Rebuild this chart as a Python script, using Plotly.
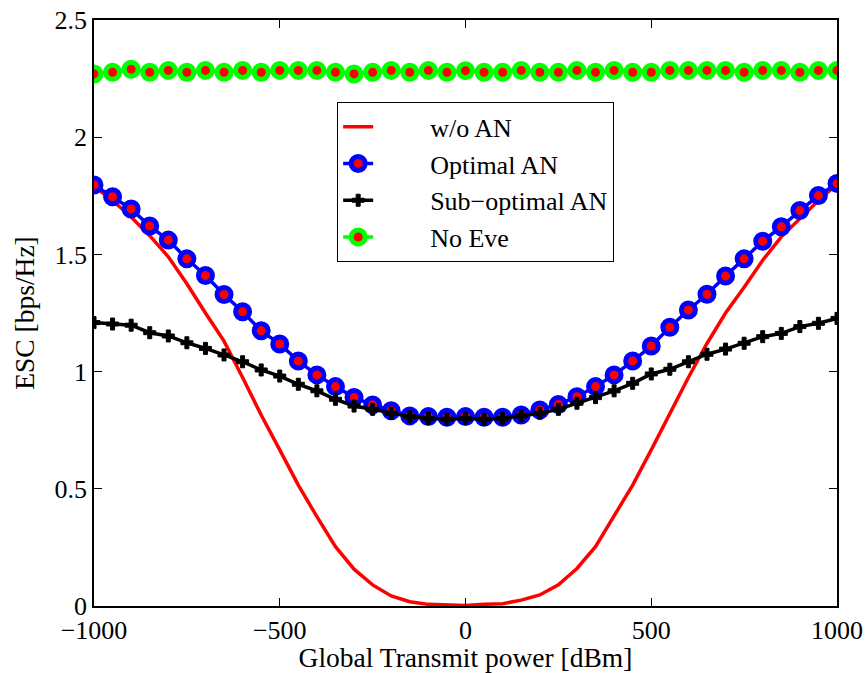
import plotly.graph_objects as go

power_dbm = list(range(-1000, 1001, 50))

wo_an = [1.79, 1.73, 1.66, 1.58, 1.49, 1.375, 1.25, 1.13, 0.975, 0.815,
         0.666, 0.516, 0.381, 0.253, 0.157, 0.090, 0.043, 0.018, 0.007, 0.005,
         0.002,
         0.007, 0.010, 0.025, 0.047, 0.090, 0.160, 0.253, 0.381, 0.516, 0.666,
         0.820, 0.975, 1.12, 1.25, 1.36, 1.475, 1.575, 1.655, 1.73, 1.80]

optimal_an = [1.796, 1.746, 1.694, 1.621, 1.561, 1.481, 1.410, 1.329, 1.255, 1.174,
              1.118, 1.045, 0.986, 0.936, 0.890, 0.858, 0.833, 0.811, 0.808, 0.805,
              0.808,
              0.805, 0.805, 0.815, 0.836, 0.860, 0.893, 0.936, 0.986, 1.045, 1.109,
              1.189, 1.263, 1.330, 1.408, 1.481, 1.556, 1.618, 1.687, 1.751, 1.803]

sub_optimal_an = [1.209, 1.203, 1.198, 1.166, 1.152, 1.123, 1.099, 1.071, 1.042, 1.007,
                  0.981, 0.946, 0.918, 0.882, 0.853, 0.839, 0.822, 0.808, 0.801, 0.797,
                  0.801,
                  0.797, 0.801, 0.811, 0.822, 0.839, 0.865, 0.889, 0.918, 0.950, 0.990,
                  1.010, 1.042, 1.074, 1.096, 1.121, 1.149, 1.163, 1.192, 1.206, 1.227]

no_eve = [2.270, 2.277, 2.290, 2.277, 2.285, 2.277, 2.285, 2.277, 2.285, 2.277,
          2.285, 2.285, 2.285, 2.277, 2.270, 2.277, 2.285, 2.277, 2.285, 2.277,
          2.284,
          2.277, 2.277, 2.285, 2.277, 2.277, 2.285, 2.277, 2.285, 2.277, 2.277,
          2.285, 2.285, 2.285, 2.285, 2.277, 2.285, 2.285, 2.277, 2.285, 2.285]

series_names = ["w/o AN", "Optimal AN", "Sub\u2212optimal AN", "No Eve"]

x_ticks = [-1000, -500, 0, 500, 1000]
y_ticks = [0, 0.5, 1, 1.5, 2, 2.5]
y_tick_labels = ["0", "0.5", "1", "1.5", "2", "2.5"]

FONT = "Liberation Serif"
PAD = "\u00a0" * 8  # pushes legend text right, like the long MATLAB legend samples

fig = go.Figure()
fig.add_trace(go.Scatter(x=power_dbm, y=wo_an, mode="lines", name=PAD + series_names[0],
                         legendgroup="a",
                         line=dict(color="#ff0000", width=3.5)))
fig.add_trace(go.Scatter(x=power_dbm, y=optimal_an, mode="lines+markers", name=PAD + series_names[1],
                         legendgroup="b",
                         line=dict(color="#0000ff", width=3.5),
                         marker=dict(symbol="circle", size=14, color="#ff0000",
                                     line=dict(color="#0000ff", width=5))))
fig.add_trace(go.Scatter(x=power_dbm, y=sub_optimal_an, mode="lines+markers", name=PAD + series_names[2],
                         legendgroup="c",
                         line=dict(color="#000000", width=3.5),
                         marker=dict(symbol="cross", size=10, color="#000000",
                                     line=dict(color="#000000", width=1))))
fig.add_trace(go.Scatter(x=power_dbm, y=no_eve, mode="lines+markers", name=PAD + series_names[3],
                         legendgroup="d",
                         line=dict(color="#00ff00", width=3.5),
                         marker=dict(symbol="circle", size=14, color="#ff0000",
                                     line=dict(color="#00ff00", width=5))))

fig.update_layout(
    width=865, height=673,
    margin=dict(l=94, r=28, t=20, b=67),
    paper_bgcolor="white", plot_bgcolor="white",
    font=dict(family=FONT, size=26, color="black"),
    showlegend=True,
    legend=dict(x=0.327, y=0.860, xanchor="left", yanchor="top",
                bgcolor="white", bordercolor="black", borderwidth=1.2,
                font=dict(family=FONT, size=26),
                traceorder="grouped", tracegroupgap=0),
    xaxis=dict(range=[-1000, 1000], tickvals=x_ticks, automargin=False,
               ticklabeloverflow="allow",
               showline=True, linecolor="black", linewidth=1.5, mirror="ticks",
               ticks="inside", ticklen=8, tickcolor="black", tickwidth=1.2,
               showgrid=False, zeroline=False,
               tickfont=dict(family=FONT, size=26),
               title=dict(text="Global Transmit power [dBm]", standoff=2,
                          font=dict(family=FONT, size=27.5))),
    yaxis=dict(range=[0, 2.5], tickvals=y_ticks, ticktext=y_tick_labels, automargin=False,
               ticklabeloverflow="allow",
               showline=True, linecolor="black", linewidth=1.5, mirror="ticks",
               ticks="inside", ticklen=8, tickcolor="black", tickwidth=1.2,
               showgrid=False, zeroline=False,
               tickfont=dict(family=FONT, size=26),
               title=dict(text="ESC [bps/Hz]", standoff=12,
                          font=dict(family=FONT, size=27.5))),
)

fig.write_html("out.html",
               config={"displayModeBar": False},
               post_script="document.body.style.margin='0';document.body.style.overflow='hidden';")
